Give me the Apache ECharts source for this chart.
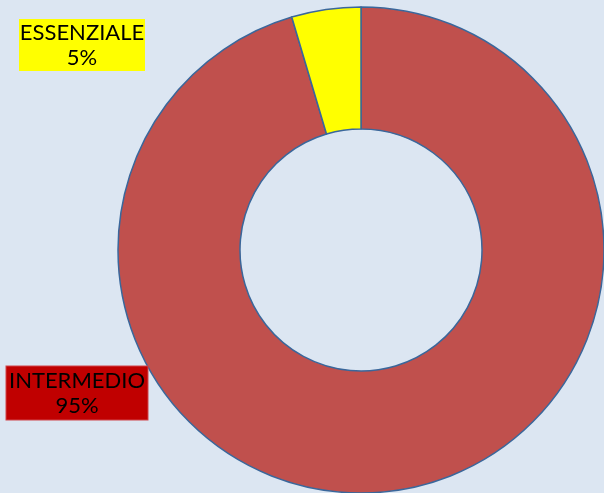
<!DOCTYPE html>
<html>
<head>
<meta charset="utf-8">
<script src="https://cdn.jsdelivr.net/npm/echarts@6/dist/echarts.min.js"></script>
<style>
  html, body { margin: 0; padding: 0; background: #dce6f2; }
  #chart { width: 604px; height: 493px; }
</style>
</head>
<body>
<div id="chart"></div>
<script>
// livelli e quote
var categories = ['INTERMEDIO', 'ESSENZIALE'];
var values = [95.4, 4.6];
var sliceColors = ['#c0504d', '#ffff00'];
var labelBoxes = ['#c00000', '#ffff00'];

// label box positions (center x, center y, width, height)
var labelPos = [[77, 393, 141, 53], [82, 45, 126, 52]];

var chart = echarts.init(document.getElementById('chart'));

var data = categories.map(function(name, i) {
    return {
        name: name,
        value: values[i],
        itemStyle: { color: sliceColors[i] },
        label: {
            backgroundColor: labelBoxes[i],
            width: labelPos[i][2],
            height: labelPos[i][3],
            borderColor: i === 0 ? '#d0454a' : 'transparent',
            borderWidth: i === 0 ? 1 : 0
        }
    };
});

chart.setOption({
    backgroundColor: '#dce6f2',
    animation: false,
    series: [{
        type: 'pie',
        center: [361, 250],
        radius: [121, 243],
        startAngle: 90,
        clockwise: true,
        data: data,
        itemStyle: { borderColor: '#3a679b', borderWidth: 1.5 },
        label: {
            show: true,
            formatter: function(p) { return p.name + '\n' + Math.round(p.percent) + '%'; },
            color: '#000',
            fontFamily: 'Lato',
            fontSize: 22,
            lineHeight: 25,
            align: 'center',
            verticalAlign: 'middle',
            padding: 0
        },
        labelLine: { show: false },
        labelLayout: function(params) {
            var p = labelPos[params.dataIndex];
            return { x: p[0], y: p[1], align: 'center', verticalAlign: 'middle' };
        },
        emphasis: { disabled: true }
    }]
});
</script>
</body>
</html>
